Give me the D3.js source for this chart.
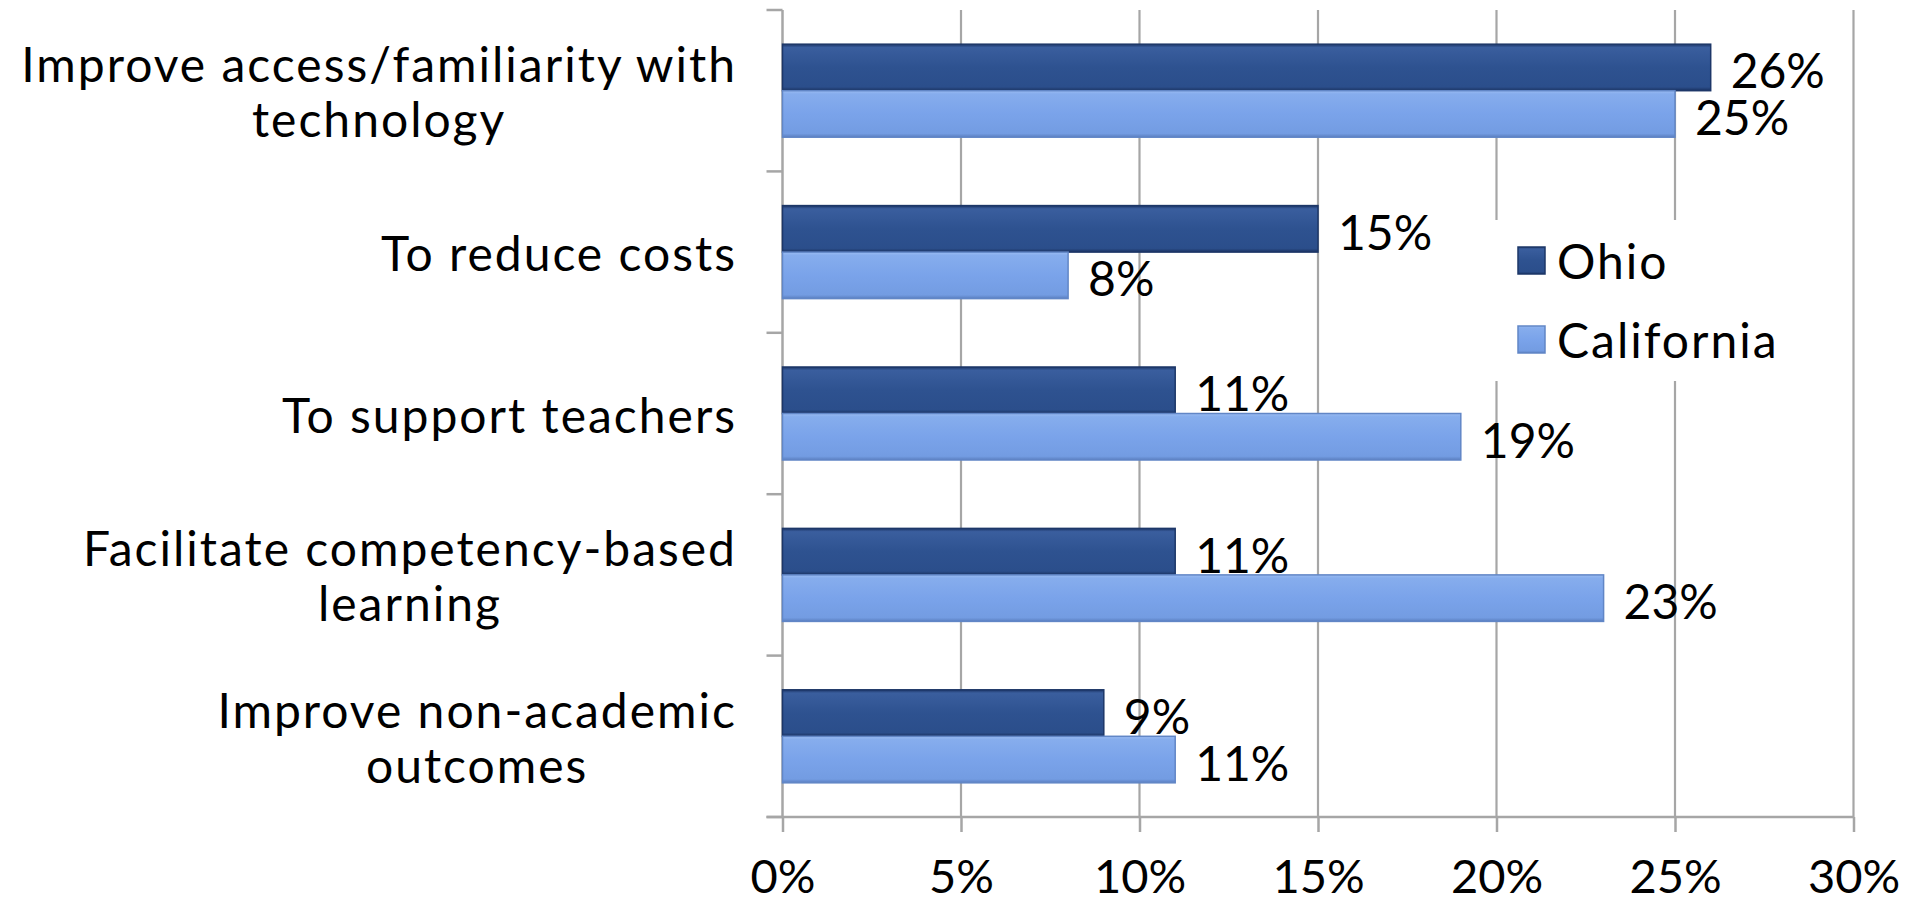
<!DOCTYPE html>
<html>
<head>
<meta charset="utf-8">
<script src="https://cdn.jsdelivr.net/npm/d3@7/dist/d3.min.js"></script>
<style>
  html, body { margin: 0; padding: 0; background: #ffffff; }
  svg { display: block; }
  text { font-family: "Century Gothic", "URW Gothic", Lato, "Open Sans", sans-serif; fill: #000; }
</style>
</head>
<body>
<svg id="chart" width="1907" height="902"></svg>
<script>
// Survey categories (line breaks mark where each label wraps)
const categories = [
  "Improve access/familiarity with\ntechnology",
  "To reduce costs",
  "To support teachers",
  "Facilitate competency-based\nlearning",
  "Improve non-academic\noutcomes"
];
const seriesNames = ["Ohio", "California"];
const ohioValues = [0.26, 0.15, 0.11, 0.11, 0.09];
const californiaValues = [0.25, 0.08, 0.19, 0.23, 0.11];
const xTicks = [0, 0.05, 0.10, 0.15, 0.20, 0.25, 0.30];

const seriesValues = { "Ohio": ohioValues, "California": californiaValues };
const rows = categories.map((c, i) => ({
  category: c,
  values: seriesNames.map(s => ({ series: s, value: seriesValues[s][i] }))
}));

const svg = d3.select("#chart");
const plot = { left: 782.5, right: 1853.5, top: 10, bottom: 817 };
const fontSize = 48;
const axisColor = "#a6a6a6";

const x = d3.scaleLinear().domain([0, 0.30]).range([plot.left, plot.right]);
const y = d3.scaleBand().domain(categories).range([plot.top, plot.bottom]).padding(0);
const ySub = d3.scaleBand().domain(seriesNames).range([0, y.bandwidth()])
  .paddingInner(0).paddingOuter(0.735);
const pct = d => Math.round(d * 100) + "%";

// Bar fills with a soft bevel toward the edges
const defs = svg.append("defs");
const fills = {
  "Ohio": { stops: [["0%", "#1c3566"], ["7%", "#3a5e9e"], ["50%", "#2e5290"], ["92%", "#2b4e8b"], ["100%", "#1a3261"]], stroke: "#1d3768" },
  "California": { stops: [["0%", "#9bbcf2"], ["7%", "#86aded"], ["50%", "#7aa3ea"], ["92%", "#739ce2"], ["100%", "#5b7fc0"]], stroke: "#6186c6" }
};
Object.entries(fills).forEach(([name, f]) => {
  const g = defs.append("linearGradient").attr("id", "grad-" + name)
    .attr("x1", 0).attr("y1", 0).attr("x2", 0).attr("y2", 1);
  f.stops.forEach(([o, c]) => g.append("stop").attr("offset", o).attr("stop-color", c));
});

// Vertical gridlines
svg.append("g").selectAll("line").data(xTicks.filter(t => t > 0)).join("line")
  .attr("x1", d => x(d)).attr("x2", d => x(d))
  .attr("y1", plot.top).attr("y2", plot.bottom)
  .attr("stroke", axisColor).attr("stroke-width", 2.2);

// Bottom axis
const xAxis = d3.axisBottom(x).tickValues(xTicks).tickFormat(pct).tickSize(15).tickPadding(30);
const gx = svg.append("g").attr("transform", `translate(0,${plot.bottom})`).call(xAxis);
gx.select(".domain").remove();
gx.selectAll(".tick line").attr("stroke", axisColor).attr("stroke-width", 2.5);
gx.selectAll(".tick text").attr("font-size", 47).attr("dy", null).attr("y", 76)
  .style("font-family", null);
gx.append("line").attr("x1", plot.left - 16).attr("x2", plot.right)
  .attr("y1", 0).attr("y2", 0).attr("stroke", axisColor).attr("stroke-width", 2.5);

// Left axis with ticks on the category boundaries
const boundaries = categories.map(c => y(c)).concat([plot.bottom]);
const gy = svg.append("g");
gy.append("line").attr("x1", plot.left).attr("x2", plot.left)
  .attr("y1", plot.top).attr("y2", plot.bottom)
  .attr("stroke", axisColor).attr("stroke-width", 2.5);
gy.selectAll("line.tick").data(boundaries).join("line").attr("class", "tick")
  .attr("x1", plot.left - 16).attr("x2", plot.left)
  .attr("y1", d => d).attr("y2", d => d)
  .attr("stroke", axisColor).attr("stroke-width", 2.5);

// Bars
const groups = svg.append("g").selectAll("g").data(rows).join("g")
  .attr("transform", d => `translate(0,${y(d.category)})`);
groups.selectAll("rect").data(d => d.values).join("rect")
  .attr("x", x(0))
  .attr("y", d => ySub(d.series))
  .attr("width", d => x(d.value) - x(0))
  .attr("height", ySub.bandwidth())
  .attr("fill", d => `url(#grad-${d.series})`)
  .attr("stroke", d => fills[d.series].stroke)
  .attr("stroke-width", 1.5);

// Value labels
groups.selectAll("text").data(d => d.values).join("text")
  .attr("x", d => x(d.value) + 20)
  .attr("y", d => ySub(d.series) + ySub.bandwidth() / 2 + 21)
  .attr("font-size", fontSize)
  .text(d => pct(d.value));

// Category labels: block right-aligned to the axis, lines centered within it
const labelRight = 737;
const lineGap = 55;
const gl = svg.append("g");
categories.forEach(c => {
  const lines = c.split("\n");
  const cy = y(c) + y.bandwidth() / 2;
  const t = gl.append("text").attr("font-size", fontSize).attr("text-anchor", "middle")
    .attr("letter-spacing", 2);
  const spans = lines.map((ln, i) => t.append("tspan")
    .attr("y", cy + 19 + (i - (lines.length - 1) / 2) * lineGap).text(ln));
  const widest = d3.max(spans, s => s.node().getComputedTextLength());
  spans.forEach(s => s.attr("x", labelRight - widest / 2));
});

// Legend on a white panel
const legend = svg.append("g");
legend.append("rect").attr("x", 1488).attr("y", 220).attr("width", 302).attr("height", 161)
  .attr("fill", "#fff");
const legendItems = legend.selectAll("g").data(seriesNames).join("g")
  .attr("transform", (d, i) => `translate(1518,${247 + i * 79})`);
legendItems.append("rect").attr("width", 27).attr("height", 27)
  .attr("fill", d => `url(#grad-${d})`)
  .attr("stroke", d => fills[d].stroke).attr("stroke-width", 1.5);
legendItems.append("text").attr("x", 39).attr("y", 32).attr("font-size", fontSize)
  .attr("letter-spacing", 2)
  .text(d => d);
</script>
</body>
</html>
